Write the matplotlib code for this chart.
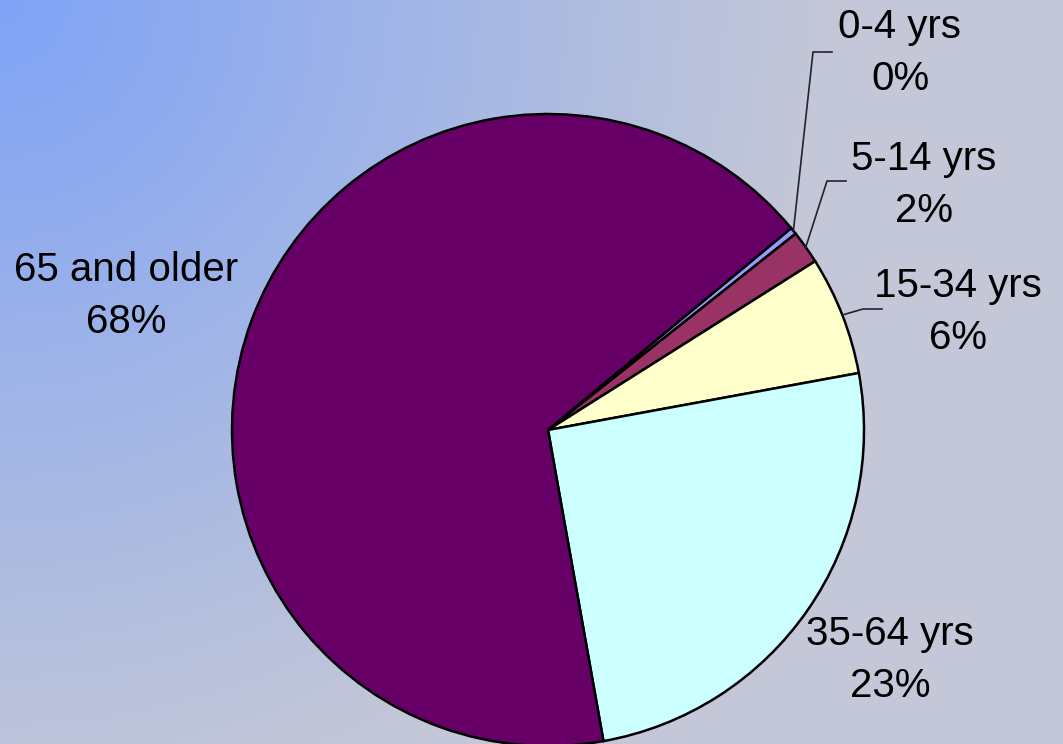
import numpy as np
import matplotlib
matplotlib.use("Agg")
import matplotlib.pyplot as plt

groups = ["0-4 yrs", "5-14 yrs", "15-34 yrs", "35-64 yrs", "65 and older"]
shares = [0.36, 1.7, 6.08, 25.08, 66.78]
pct_labels = ["0%", "2%", "6%", "23%", "68%"]
colors = ["#9999FF", "#993366", "#FFFFCC", "#CCFFFF", "#660066"]

W, H = 1063, 744
plt.rcParams["font.family"] = ["Liberation Sans", "DejaVu Sans"]

fig = plt.figure(figsize=(W / 100, H / 100), dpi=100)
ax = fig.add_axes([0, 0, 1, 1])

# radial gradient background from the top-left corner
yy, xx = np.mgrid[0:H, 0:W]
t = np.clip(np.hypot(xx, yy) / 820.0, 0, 1)[..., None]
c0 = np.array([0x7F, 0xA3, 0xF7]) / 255
c1 = np.array([0xC3, 0xC7, 0xD7]) / 255
grad = c0 * (1 - t) + c1 * t
ax.imshow(grad, extent=[0, W, 0, H], origin="upper", zorder=0)

cx, cy, r = 548, H - 430, 316
wedges, _ = ax.pie(shares, colors=colors, startangle=39.7, counterclock=False,
                   center=(cx, cy), radius=r, frame=True,
                   wedgeprops=dict(edgecolor="black", linewidth=1.8))
for w in wedges:
    w.set_zorder(2)

# label text positions (pixel coords, y from top) and leader elbows
label_pos = [(900, 53), (924, 185), (958, 312), (890, 660), (126, 296)]
leaders = {0: [(813, 52), (832, 52)], 1: [(827, 181), (846, 181)], 2: [(863, 309), (882, 309)]}

for i, (g, p) in enumerate(zip(groups, pct_labels)):
    x, y = label_pos[i]
    ax.text(x, H - y, f"{g}\n{p}", ha="center", va="center", fontsize=29,
            linespacing=1.45, color="black", zorder=4)
    if i in leaders:
        w = wedges[i]
        mid = np.deg2rad((w.theta1 + w.theta2) / 2)
        xs = [cx + r * np.cos(mid)] + [px for px, _ in leaders[i]]
        ys = [cy + r * np.sin(mid)] + [H - py for _, py in leaders[i]]
        ax.plot(xs, ys, color="#222233", linewidth=1.2, zorder=3)

ax.set_xlim(0, W)
ax.set_ylim(0, H)
ax.set_aspect("auto")
ax.axis("off")

fig.savefig("out.png", dpi=100)
